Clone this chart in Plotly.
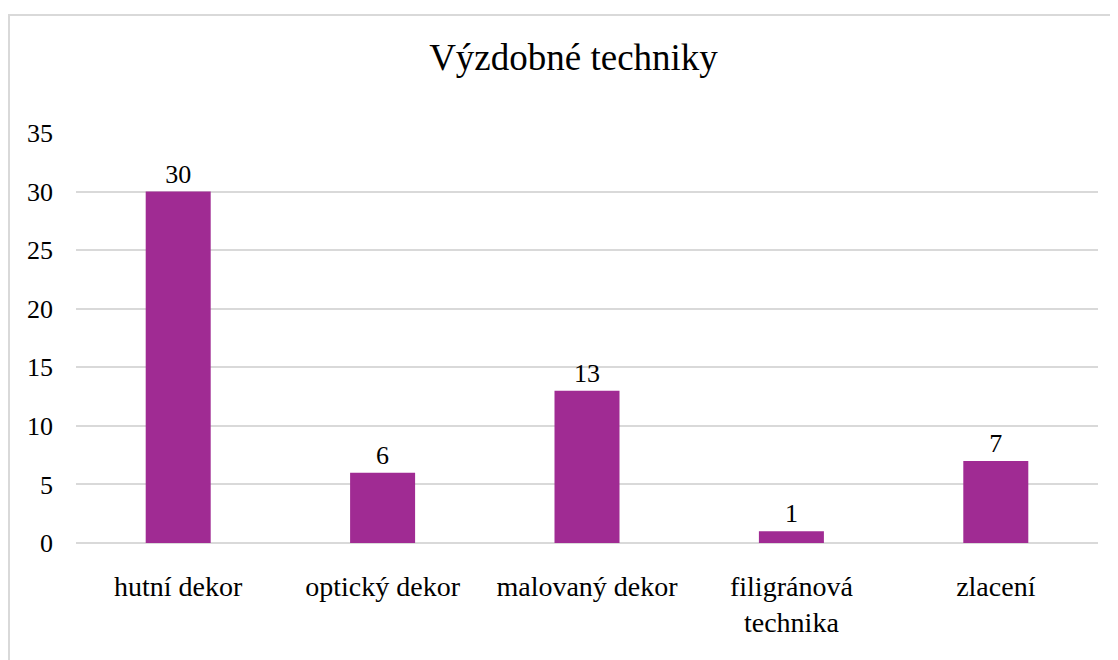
import plotly.graph_objects as go

categories = ["hutní dekor", "optický dekor", "malovaný dekor", "filigránová<br>technika", "zlacení"]
values = [30, 6, 13, 1, 7]
y_ticks = [0, 5, 10, 15, 20, 25, 30, 35]
title_text = "Výzdobné techniky"

OFF = 8  # page body margin
W, H = 1118 - OFF, 660 - OFF
L, R, T, B = 76 - OFF, 1098 - OFF, 133 - OFF, 543 - OFF
pw, ph = R - L, B - T

def px_x(x):
    return (x - OFF - L) / pw

def px_y(y):
    return (B - (y - OFF)) / ph

FONT = "Liberation Serif, Times New Roman, serif"
GRID = "#d9d9d9"

fig = go.Figure(
    go.Bar(
        x=categories,
        y=values,
        marker=dict(color="#A02B93", line=dict(width=0)),
        text=[str(v) for v in values],
        textposition="outside",
        textfont=dict(family=FONT, size=26, color="#000000"),
        cliponaxis=False,
        width=0.318,
    )
)

fig.update_layout(
    width=W,
    height=H,
    margin=dict(l=L, r=W - R, t=T, b=H - B),
    paper_bgcolor="white",
    plot_bgcolor="white",
    showlegend=False,
    title=dict(
        text=title_text,
        x=(573.5 - OFF) / W,
        xref="container",
        xanchor="center",
        y=1 - (57 - OFF) / H,
        yref="container",
        yanchor="middle",
        font=dict(family=FONT, size=37, color="#000000"),
    ),
    font=dict(family=FONT, color="#000000"),
    shapes=[
        dict(
            type="rect",
            xref="paper",
            yref="paper",
            x0=px_x(9),
            x1=px_x(1140),
            y0=px_y(690),
            y1=px_y(15),
            line=dict(color=GRID, width=2),
            fillcolor="rgba(0,0,0,0)",
            layer="below",
        )
    ],
)

fig.update_xaxes(
    showgrid=False,
    showline=False,
    ticks="",
    tickfont=dict(family=FONT, size=28, color="#000000"),
    ticklabelstandoff=24,
)
fig.update_yaxes(
    range=[0, 35],
    tickvals=y_ticks,
    showgrid=True,
    gridcolor=GRID,
    gridwidth=1.5,
    zeroline=True,
    zerolinecolor=GRID,
    zerolinewidth=1.5,
    showline=False,
    ticks="",
    tickfont=dict(family=FONT, size=26, color="#000000"),
    ticklabelstandoff=22,
)

fig.write_html("out.html")
